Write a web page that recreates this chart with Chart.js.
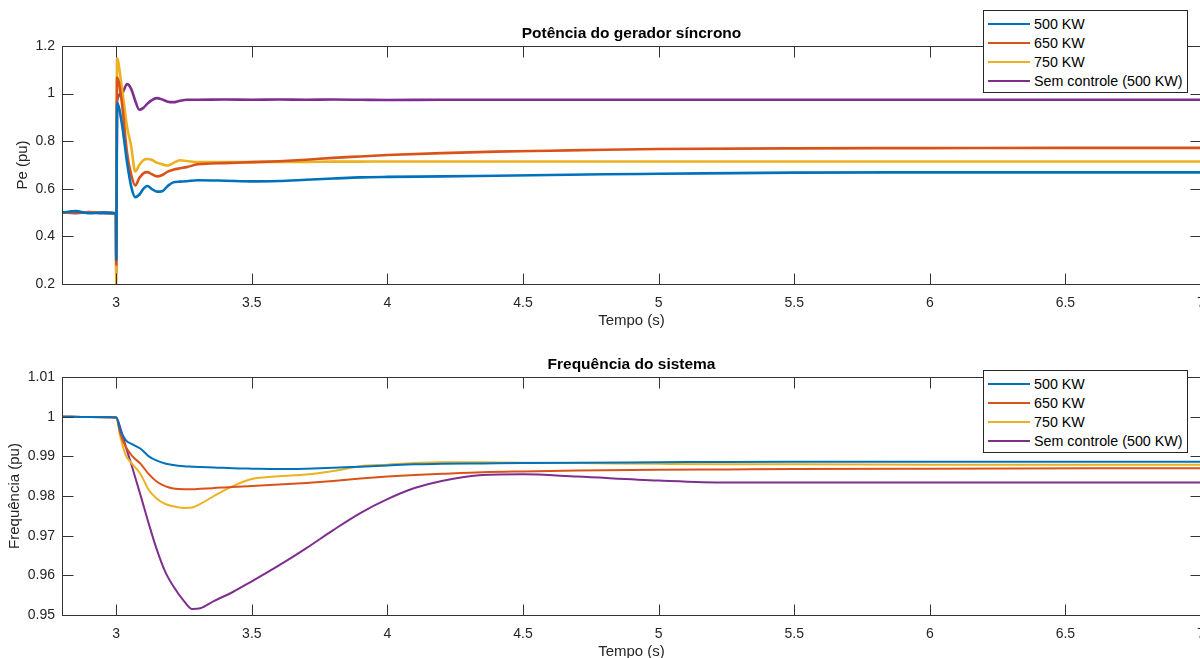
<!DOCTYPE html>
<html>
<head>
<meta charset="utf-8">
<title>Potência e frequência</title>
<script src="https://cdn.jsdelivr.net/npm/chart.js@4.4.1/dist/chart.umd.min.js"></script>
<style>
  html, body { margin: 0; padding: 0; background: #fff; overflow: hidden; }
  #page { position: relative; width: 1200px; height: 658px; overflow: hidden; }
  .plot { position: absolute; left: 0; width: 1250px; height: 330px; }
  .legend {
    position: absolute; left: 983px; width: 203px; height: 78px;
    border: 1px solid #262626; background: #fff; z-index: 2;
    font-family: "Liberation Sans", Arial, sans-serif; font-size: 14.3px; color: #000;
    box-sizing: content-box; padding-top: 3px;
  }
  .legend .row { height: 19px; display: flex; align-items: center; white-space: nowrap; }
  .legend .sw { width: 42px; height: 2px; margin: 0 4px 0 4px; }
</style>
</head>
<body>
<div id="page">
  <div class="plot" style="top:0px"><canvas id="pe" width="1250" height="330"></canvas></div>
  <div class="plot" style="top:331px"><canvas id="freq" width="1250" height="330"></canvas></div>
  <div class="legend" id="leg1" style="top:10px"></div>
  <div class="legend" id="leg2" style="top:370px"></div>
</div>
<script>
// series names and colours (MATLAB default order)
var seriesNames = ['500 KW', '650 KW', '750 KW', 'Sem controle (500 KW)'];
var seriesColors = ['#0072BD', '#D95319', '#EDB120', '#7E2F8E'];

// x axis ticks (both plots)
var xTicks = [3, 3.5, 4, 4.5, 5, 5.5, 6, 6.5, 7];
var xTickLabels = ['3', '3.5', '4', '4.5', '5', '5.5', '6', '6.5', '7'];

// ---- top plot: Pe (pu) ----
var peTicks = [0.2, 0.4, 0.6, 0.8, 1, 1.2];
var peTickLabels = ['0.2', '0.4', '0.6', '0.8', '1', '1.2'];
var peTime = [2.8, 2.85, 2.9, 2.95, 2.999, 3.0, 3.003, 3.02, 3.04, 3.055, 3.07, 3.085, 3.1, 3.115, 3.13, 3.15,
  3.17, 3.19, 3.21, 3.235, 3.26, 3.3, 3.4, 3.5, 3.6, 3.7, 3.8, 3.9, 4.0, 4.2, 4.4, 4.6, 4.8, 5.0, 5.5, 6.0, 6.5, 7.0];
var pe500 = [0.500, 0.506, 0.497, 0.500, 0.497, 0.30, 0.96, 0.88, 0.71, 0.61, 0.565, 0.575, 0.600, 0.612, 0.600, 0.588,
  0.590, 0.612, 0.627, 0.630, 0.632, 0.636, 0.634, 0.631, 0.633, 0.638, 0.643, 0.648, 0.650, 0.652, 0.655, 0.658, 0.661, 0.663, 0.668, 0.669, 0.669, 0.669];
var pe650 = [0.500, 0.500, 0.500, 0.500, 0.497, 0.28, 1.067, 0.97, 0.75, 0.66, 0.614, 0.645, 0.665, 0.670, 0.662, 0.652,
  0.658, 0.672, 0.680, 0.686, 0.691, 0.703, 0.708, 0.712, 0.716, 0.722, 0.730, 0.736, 0.742, 0.750, 0.756, 0.760, 0.764, 0.767, 0.770, 0.771, 0.772, 0.772];
var pe750 = [0.500, 0.500, 0.500, 0.500, 0.495, 0.20, 1.148, 1.03, 0.86, 0.78, 0.673, 0.700, 0.720, 0.725, 0.722, 0.710,
  0.703, 0.698, 0.708, 0.720, 0.717, 0.712, 0.712, 0.712, 0.713, 0.713, 0.714, 0.714, 0.715, 0.715, 0.715, 0.715, 0.715, 0.715, 0.715, 0.715, 0.715, 0.715];
var peSem = [0.500, 0.498, 0.502, 0.497, 0.495, 0.25, 0.97, 1.00, 1.04, 1.02, 0.970, 0.932, 0.940, 0.958, 0.972, 0.981,
  0.975, 0.966, 0.964, 0.970, 0.974, 0.974, 0.975, 0.974, 0.975, 0.974, 0.975, 0.974, 0.973, 0.974, 0.974, 0.974, 0.974, 0.974, 0.974, 0.974, 0.974, 0.974];

// ---- bottom plot: Frequência (pu) ----
var fTicks = [0.95, 0.96, 0.97, 0.98, 0.99, 1, 1.01];
var fTickLabels = ['0.95', '0.96', '0.97', '0.98', '0.99', '1', '1.01'];
var fTime = [2.8, 2.9, 3.0, 3.015, 3.035, 3.06, 3.09, 3.12, 3.15, 3.18, 3.21, 3.25, 3.28, 3.31, 3.36, 3.43, 3.5,
  3.6, 3.7, 3.8, 3.9, 4.0, 4.1, 4.2, 4.35, 4.5, 4.7, 5.0, 5.25, 5.5, 6.0, 7.0];
var f500 = [1.0000, 0.9999, 0.9998, 0.9966, 0.9941, 0.9930, 0.9919, 0.9900, 0.9889, 0.9882, 0.9878, 0.9875, 0.9874, 0.9873, 0.9872, 0.9870, 0.9869,
  0.9868, 0.9869, 0.9871, 0.9874, 0.9877, 0.9880, 0.9881, 0.9882, 0.9883, 0.9884, 0.9885, 0.9886, 0.98865, 0.98865, 0.98865];
var f650 = [1.0000, 0.9999, 0.9998, 0.9958, 0.9924, 0.9900, 0.9881, 0.9855, 0.9836, 0.9825, 0.9819, 0.9817, 0.9817, 0.9818, 0.9820, 0.9823, 0.9825,
  0.9829, 0.9833, 0.9838, 0.9844, 0.9849, 0.9853, 0.9856, 0.9860, 0.9862, 0.9864, 0.9866, 0.9867, 0.9868, 0.9869, 0.9870];
var f750 = [1.0000, 0.9999, 0.9998, 0.9950, 0.9903, 0.9880, 0.9855, 0.9815, 0.9793, 0.9780, 0.9774, 0.9770, 0.9771, 0.9780, 0.9800, 0.9825, 0.9843,
  0.9850, 0.9854, 0.9863, 0.9875, 0.9879, 0.9883, 0.9885, 0.9885, 0.9884, 0.9883, 0.9881, 0.9880, 0.9880, 0.9879, 0.9879];
var fSem = [1.0000, 0.9999, 0.9998, 0.9972, 0.9925, 0.9870, 0.9801, 0.9730, 0.9664, 0.9610, 0.9573, 0.9535, 0.9515, 0.9517, 0.9535, 0.9558, 0.9585,
  0.9625, 0.9668, 0.9714, 0.9757, 0.9792, 0.9820, 0.9838, 0.9853, 0.9855, 0.9849, 0.9839, 0.9834, 0.9834, 0.9834, 0.9834];

var axisColor = '#333333';
var textColor = '#262626';
var tickLen = 11;

Chart.defaults.font.family = '"Liberation Sans", Arial, sans-serif';
Chart.defaults.color = textColor;

// box round the axes, with ticks pointing inwards like matlab
var matlabBox = {
  id: 'matlabBox',
  afterDraw: function (chart) {
    var ctx = chart.ctx, a = chart.chartArea, sx = chart.scales.x, sy = chart.scales.y;
    var L = Math.round(a.left) + 0.5, R = Math.round(a.right) + 0.5;
    var T = Math.round(a.top) + 0.5, B = Math.round(a.bottom) + 0.5;
    ctx.save();
    ctx.strokeStyle = axisColor;
    ctx.lineWidth = 1;
    ctx.strokeRect(L, T, R - L, B - T);
    ctx.beginPath();
    sx.ticks.forEach(function (t) {
      var px = Math.round(sx.getPixelForValue(t.value)) + 0.5;
      ctx.moveTo(px, B); ctx.lineTo(px, B - tickLen);
      ctx.moveTo(px, T); ctx.lineTo(px, T + tickLen);
    });
    sy.ticks.forEach(function (t) {
      var py = Math.round(sy.getPixelForValue(t.value)) + 0.5;
      ctx.moveTo(L, py); ctx.lineTo(L + tickLen, py);
      ctx.moveTo(R, py); ctx.lineTo(R - tickLen, py);
    });
    ctx.stroke();
    ctx.restore();
  }
};

function makeSets(time, lists, width) {
  return lists.map(function (vals, i) {
    return {
      label: seriesNames[i],
      data: time.map(function (t, k) { return { x: t, y: vals[k] }; }),
      borderColor: seriesColors[i],
      backgroundColor: seriesColors[i],
      borderWidth: width,
      pointRadius: 0,
      cubicInterpolationMode: 'monotone',
      fill: false
    };
  });
}

function makeChart(id, title, yTitle, yTitlePad, yMin, yMax, yTicks, yLabels, sets) {
  return new Chart(document.getElementById(id), {
    type: 'line',
    data: { datasets: sets },
    options: {
      responsive: false,
      animation: false,
      events: [],
      layout: { padding: { left: 0, right: 49, top: 0, bottom: 0 } },
      plugins: {
        legend: { display: false },
        tooltip: { enabled: false },
        title: {
          display: true,
          fullSize: false,
          text: title,
          color: '#000',
          font: { size: 15.5, weight: 'bold', lineHeight: 1 },
          padding: { top: 25.5, bottom: 5 }
        }
      },
      scales: {
        x: {
          type: 'linear',
          min: 2.8,
          max: 7,
          grid: { display: false, drawTicks: false },
          border: { display: false },
          afterBuildTicks: function (scale) {
            scale.ticks = xTicks.map(function (v) { return { value: v }; });
          },
          afterFit: function (scale) { scale.height = 46; },
          ticks: {
            padding: 11,
            maxRotation: 0,
            autoSkip: false,
            font: { size: 14 },
            callback: function (v, i) { return xTickLabels[i]; }
          },
          title: {
            display: true,
            text: 'Tempo (s)',
            font: { size: 15 },
            padding: { top: 0, bottom: 0 }
          }
        },
        y: {
          type: 'linear',
          min: yMin,
          max: yMax,
          grid: { display: false, drawTicks: false },
          border: { display: false },
          afterBuildTicks: function (scale) {
            scale.ticks = yTicks.map(function (v) { return { value: v }; });
          },
          afterFit: function (scale) { scale.width = 62; },
          ticks: {
            padding: 7,
            autoSkip: false,
            font: { size: 14 },
            callback: function (v, i) { return yLabels[i]; }
          },
          title: {
            display: true,
            text: yTitle,
            font: { size: 15 },
            padding: { top: yTitlePad, bottom: 0 }
          }
        }
      }
    },
    plugins: [matlabBox]
  });
}

makeChart('pe', 'Potência do gerador síncrono', 'Pe (pu)', 14, 0.2, 1.2, peTicks, peTickLabels,
  makeSets(peTime, [pe500, pe650, pe750, peSem], 2.6));
makeChart('freq', 'Frequência do sistema', 'Frequência (pu)', 6, 0.95, 1.01, fTicks, fTickLabels,
  makeSets(fTime, [f500, f650, f750, fSem], 2));

// legends, drawn as html boxes in the top right corner
['leg1', 'leg2'].forEach(function (id) {
  var box = document.getElementById(id);
  seriesNames.forEach(function (name, i) {
    var row = document.createElement('div');
    row.className = 'row';
    var sw = document.createElement('span');
    sw.className = 'sw';
    sw.style.background = seriesColors[i];
    row.appendChild(sw);
    row.appendChild(document.createTextNode(name));
    box.appendChild(row);
  });
});
</script>
</body>
</html>
